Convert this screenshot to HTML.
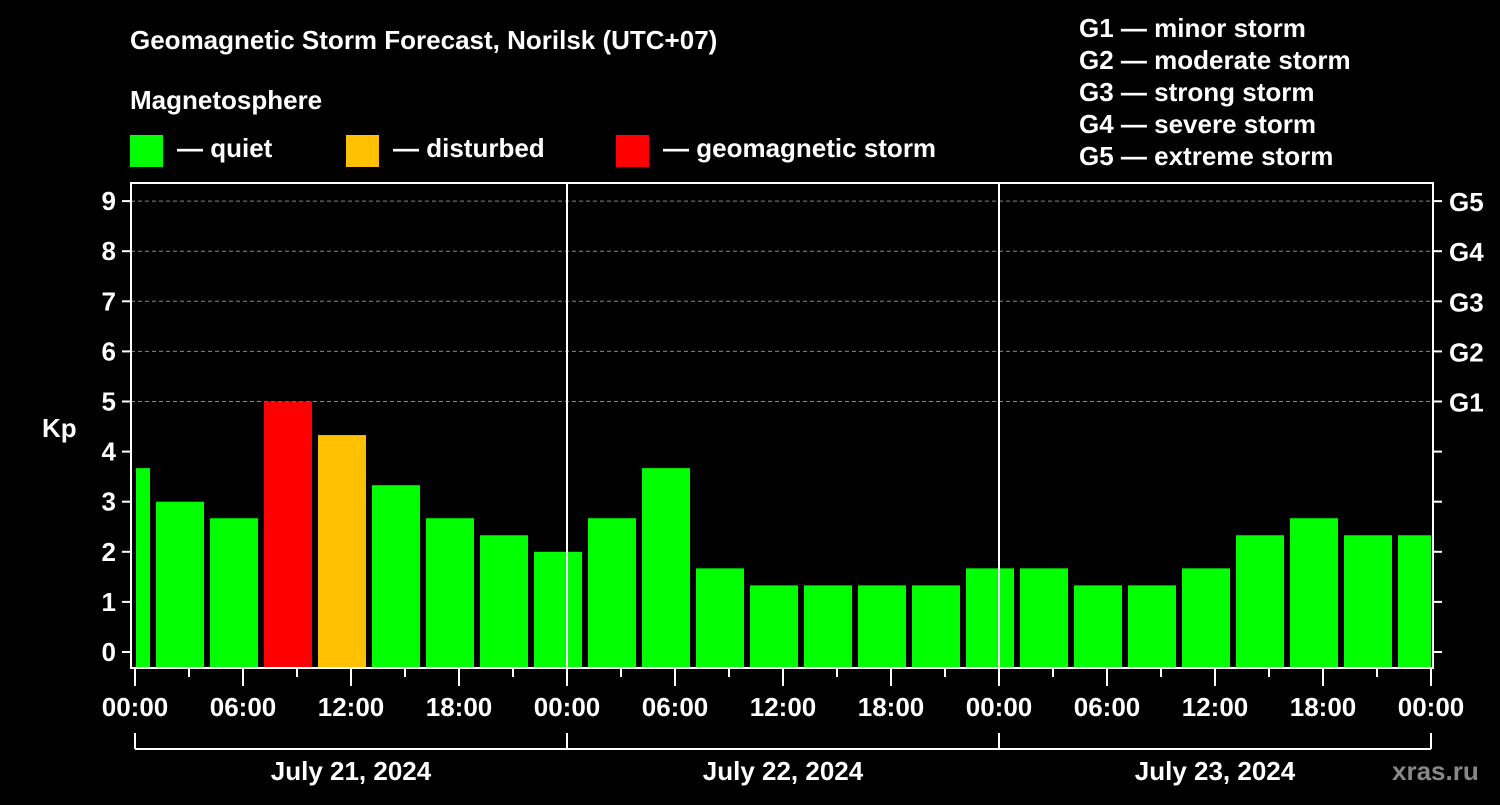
<!DOCTYPE html>
<html><head><meta charset="utf-8"><style>
body{margin:0;background:#000;width:1500px;height:800px;overflow:hidden}
svg text{font-family:"Liberation Sans",sans-serif;font-weight:bold;fill:#fff}
</style></head><body>
<svg id="c" width="1500" height="800" xmlns="http://www.w3.org/2000/svg">
<text x="130" y="49" font-size="26">Geomagnetic Storm Forecast, Norilsk (UTC+07)</text>
<text x="130" y="109" font-size="26">Magnetosphere</text>
<g>
<rect x="130" y="135" width="33" height="32" fill="#00ff00"/>
<text x="177" y="157" font-size="26">— quiet</text>
<rect x="346" y="135" width="33" height="32" fill="#ffc000"/>
<text x="393" y="157" font-size="26">— disturbed</text>
<rect x="616" y="135" width="33" height="32" fill="#ff0000"/>
<text x="663" y="157" font-size="26">— geomagnetic storm</text>
</g>
<g font-size="26">
<text x="1079" y="37">G1 — minor storm</text>
<text x="1079" y="69">G2 — moderate storm</text>
<text x="1079" y="101">G3 — strong storm</text>
<text x="1079" y="133">G4 — severe storm</text>
<text x="1079" y="165">G5 — extreme storm</text>
</g>
<text x="42" y="437" font-size="26">Kp</text>
<g id="plot"></g>
<text x="1392" y="780" font-size="26" fill="#888" style="fill:#888">xras.ru</text>
</svg>
<script>
const kpValues=[3.67,3,2.67,5,4.33,3.33,2.67,2.33,2,2.67,3.67,1.67,1.33,1.33,1.33,1.33,1.67,1.67,1.33,1.33,1.67,2.33,2.67,2.33,2.33];
const barHours=[-0.5,2.5,5.5,8.5,11.5,14.5,17.5,20.5,23.5,26.5,29.5,32.5,35.5,38.5,41.5,44.5,47.5,50.5,53.5,56.5,59.5,62.5,65.5,68.5,71.5];
const yTicks=[0,1,2,3,4,5,6,7,8,9];
const gLabels=["G1","G2","G3","G4","G5"];
const gLevels=[5,6,7,8,9];
const xTickLabels=["00:00","06:00","12:00","18:00","00:00","06:00","12:00","18:00","00:00","06:00","12:00","18:00","00:00"];
const dayLabels=["July 21, 2024","July 22, 2024","July 23, 2024"];
const NS="http://www.w3.org/2000/svg";
const X=h=>135+h*18;
const Y=k=>652-k*50.1;
const plot=document.getElementById('plot');
function mk(t,a,p){const e=document.createElementNS(NS,t);for(const k in a)e.setAttribute(k,a[k]);(p||plot).appendChild(e);return e;}
// grid
gLevels.forEach(k=>{const l=mk('line',{x1:131,x2:1433,y1:Y(k),y2:Y(k),stroke:'#888','stroke-dasharray':'4,3','stroke-width':1});

});
// bars
kpValues.forEach((v,i)=>{const c=barHours[i];let x0=X(c-1.333),x1=X(c+1.333);x0=Math.max(x0,136);x1=Math.min(x1,1431);
const col=v>=5?'#ff0000':(v>=4?'#ffc000':'#00ff00');
const r=mk('rect',{x:x0,y:Y(v),width:x1-x0,height:667-Y(v),fill:col});

});
// day separators
[24,48].forEach(h=>{const l=mk('line',{x1:X(h),x2:X(h),y1:182,y2:668,stroke:'#fff','stroke-width':2});

});
// frame
const f=mk('rect',{x:131,y:183,width:1302,height:485,fill:'none',stroke:'#fff','stroke-width':2});


// y ticks
yTicks.forEach(k=>{mk('line',{x1:122,x2:131,y1:Y(k),y2:Y(k),stroke:'#fff','stroke-width':2});
mk('line',{x1:1433,x2:1442,y1:Y(k),y2:Y(k),stroke:'#fff','stroke-width':2});
const t=mk('text',{x:116,y:Y(k)+9,'font-size':26,'text-anchor':'end'});t.textContent=k;

});
gLabels.forEach((g,i)=>{const t=mk('text',{x:1449,y:Y(gLevels[i])+10,'font-size':26});t.textContent=g;

});
// x ticks
for(let h=0;h<=72;h+=3){const maj=h%6===0;mk('line',{x1:X(h),x2:X(h),y1:669,y2:maj?686:677,stroke:'#fff','stroke-width':2});}
xTickLabels.forEach((s,i)=>{const t=mk('text',{x:X(i*6),y:716,'font-size':26,'text-anchor':'middle'});t.textContent=s;

});
// day bracket
mk('line',{x1:X(0),x2:X(72),y1:749,y2:749,stroke:'#fff','stroke-width':2});
[0,24,48,72].forEach(h=>mk('line',{x1:X(h),x2:X(h),y1:733,y2:749,stroke:'#fff','stroke-width':2}));
dayLabels.forEach((s,i)=>{const t=mk('text',{x:X(i*24+12),y:780,'font-size':26,'text-anchor':'middle'});t.textContent=s;

});
</script>
</body></html>
